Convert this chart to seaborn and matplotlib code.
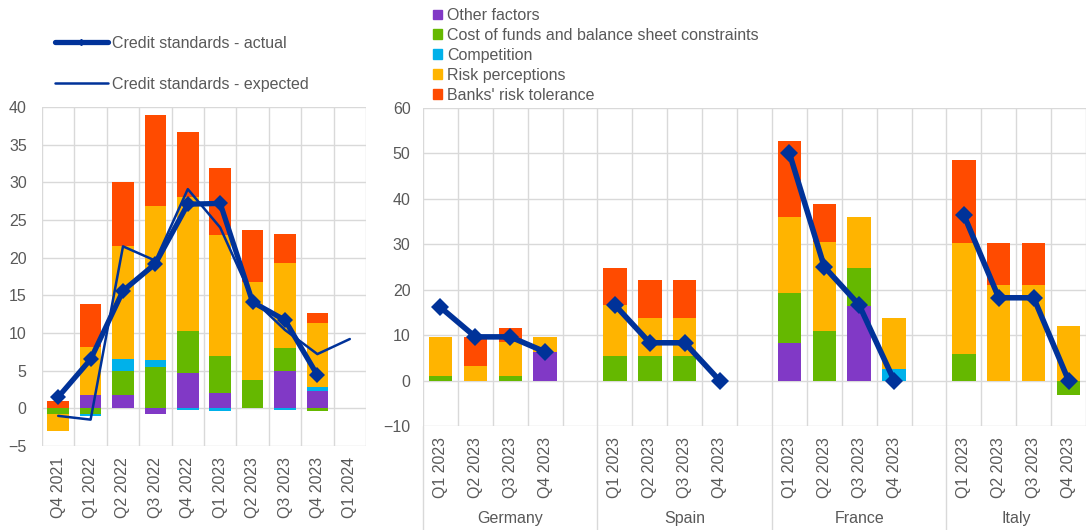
import numpy as np
import seaborn as sns
import matplotlib.pyplot as plt
import matplotlib.transforms as mtransforms
from matplotlib.lines import Line2D
from matplotlib.patches import Patch

# ---- data: euro area (left panel) ----
ea_quarters = ["Q4 2021", "Q1 2022", "Q2 2022", "Q3 2022", "Q4 2022",
               "Q1 2023", "Q2 2023", "Q3 2023", "Q4 2023", "Q1 2024"]
ea_other = [0.0, 1.8, 1.8, -0.8, 4.65, 2.0, 0.0, 4.9, 2.25]
ea_cost = [-0.7, -0.75, 3.1, 5.5, 5.55, 5.0, 3.7, 3.1, -0.4]
ea_comp = [0.0, -0.3, 1.7, 0.9, -0.2, -0.3, 0.0, -0.2, 0.55]
ea_perc = [-2.3, 6.4, 15.0, 20.4, 17.9, 16.0, 13.1, 11.3, 8.5]
ea_tol = [1.0, 5.65, 8.5, 12.2, 8.6, 8.9, 6.9, 3.9, 1.4]
ea_actual = [1.5, 6.5, 15.6, 19.2, 27.1, 27.2, 14.1, 11.7, 4.4]
ea_expected = [-1.0, -1.5, 21.5, 19.6, 29.1, 24.0, 14.5, 10.4, 7.2, 9.2]

# ---- data: countries (right panel), Q1-Q4 2023 for each country ----
countries = ["Germany", "Spain", "France", "Italy"]
cty_quarters = ["Q1 2023", "Q2 2023", "Q3 2023", "Q4 2023"]
cty_other = [0, 0, 0, 6.3,   0, 0, 0, 0,   8.2, 0, 16.5, 0,   0, 0, 0, 0]
cty_cost = [0.9, 0, 0.9, 0,   5.4, 5.4, 5.4, 0,   11.1, 11.0, 8.3, 0,   5.9, 0, 0, -3.1]
cty_comp = [0, 0, 0, 0,   0, 0, 0, 0,   0, 0, 0, 2.6,   0, 0, 0, 0]
cty_perc = [8.6, 3.2, 7.6, 3.2,   11.2, 8.4, 8.4, 0,   16.7, 19.5, 11.2, 11.2,   24.3, 21.1, 21.1, 12.0]
cty_tol = [0, 6.3, 3.15, 0,   8.2, 8.2, 8.2, 0,   16.7, 8.3, 0, 0,   18.2, 9.1, 9.1, 0]
cty_actual = [16.1, 9.6, 9.6, 6.3,   16.6, 8.3, 8.3, 0,   50.0, 25.0, 16.6, 0,   36.4, 18.2, 18.2, 0]

factor_names = ["Other factors", "Cost of funds and balance sheet constraints",
                "Competition", "Risk perceptions", "Banks' risk tolerance"]
factor_colors = ["#8139C6", "#65B800", "#00B1EA", "#FFB400", "#FF4B00"]
line_color = "#003299"
grid_color = "#D9D9D9"
text_color = "#595959"

sns.set_theme(style="white")
plt.rcParams['font.family'] = ['Liberation Sans', 'DejaVu Sans']


def stacked_bars(ax, pos, comps):
    vals = np.array(comps, dtype=float)
    up = np.clip(vals, 0, None).cumsum(axis=0)
    down = np.clip(vals, None, 0).cumsum(axis=0)
    # draw cumulative totals from the top layer down so lower layers sit on top
    for i in range(len(comps) - 1, -1, -1):
        for part in (up, down):
            sns.barplot(x=pos, y=part[i], native_scale=True, orient="x",
                        color=factor_colors[i], saturation=1, width=0.67,
                        errorbar=None, linewidth=0, ax=ax)


def style_axis(ax, n_slots):
    for s in ax.spines.values():
        s.set_visible(False)
    ax.set_xticks(np.arange(-0.5, n_slots), minor=True)
    ax.grid(which="minor", axis="x", color=grid_color, lw=1)
    ax.grid(which="major", axis="y", color=grid_color, lw=1)
    ax.grid(which="major", axis="x", visible=False)
    ax.tick_params(which="both", length=0, colors=text_color, labelsize=11.5)
    ax.set_axisbelow(True)
    ax.set_xlabel("")
    ax.set_ylabel("")


fig = plt.figure(figsize=(10.86, 5.30), dpi=100)

# ---- left panel ----
ax1 = fig.add_axes([42 / 1086, 84 / 530, 324 / 1086, 339 / 530])
ea_pos = np.arange(len(ea_actual))
stacked_bars(ax1, ea_pos, [ea_other, ea_cost, ea_comp, ea_perc, ea_tol])
sns.lineplot(x=np.arange(len(ea_expected)), y=ea_expected, color=line_color,
             lw=1.8, ax=ax1)
sns.lineplot(x=ea_pos, y=ea_actual, color=line_color, lw=3.8, marker="D",
             markersize=8, markeredgewidth=0, ax=ax1)
ax1.set_xlim(-0.5, 9.5)
ax1.set_ylim(-5, 40)
ax1.set_yticks(np.arange(-5, 41, 5))
ax1.set_xticks(np.arange(len(ea_quarters)))
ax1.set_xticklabels(ea_quarters, rotation=90)
style_axis(ax1, len(ea_quarters))
ax1.tick_params(axis="y", pad=11)
ax1.tick_params(axis="x", pad=8)

# ---- right panel ----
ax2 = fig.add_axes([423 / 1086, 104 / 530, 663 / 1086, 318.3 / 530])
cty_pos = np.array([5 * c + q for c in range(len(countries)) for q in range(4)])
stacked_bars(ax2, cty_pos, [cty_other, cty_cost, cty_comp, cty_perc, cty_tol])
for c in range(len(countries)):
    sl = slice(4 * c, 4 * c + 4)
    sns.lineplot(x=cty_pos[sl], y=cty_actual[sl], color=line_color, lw=4,
                 marker="D", markersize=9, markeredgewidth=0, ax=ax2)
ax2.set_xlim(-0.5, 18.23)
ax2.set_ylim(-10, 60)
ax2.set_yticks(np.arange(-10, 61, 10))
ax2.set_xticks(cty_pos)
ax2.set_xticklabels(cty_quarters * len(countries), rotation=90)
style_axis(ax2, 19)
ax2.tick_params(axis="y", pad=9)
ax2.tick_params(axis="x", pad=8)

trans = mtransforms.blended_transform_factory(ax2.transData, ax2.transAxes)
for xb in [-0.5, 4.5, 9.5, 14.5]:
    ax2.plot([xb, xb], [0, -0.33], color=grid_color, lw=1, transform=trans,
             clip_on=False)
for c, xc in zip(countries, [2.0, 7.0, 12.0, 16.5]):
    ax2.text(xc, -0.292, c, transform=trans, ha="center", va="center",
             fontsize=11.5, color=text_color)

# ---- legends ----
line_handles = [
    Line2D([], [], color=line_color, lw=3.8, marker="D", markersize=3),
    Line2D([], [], color=line_color, lw=1.8),
]
fig.legend(line_handles, ["Credit standards - actual", "Credit standards - expected"],
           loc="upper left", bbox_to_anchor=(55 / 1086, 1 - 36 / 530),
           frameon=False, fontsize=11.5, labelcolor=text_color,
           handlelength=3.3, handletextpad=0.3, labelspacing=1.6,
           borderpad=0, borderaxespad=0)

bar_handles = [Patch(color=col) for col in factor_colors]
fig.legend(bar_handles, factor_names, loc="upper left",
           bbox_to_anchor=(433 / 1086, 1 - 8 / 530), frameon=False,
           fontsize=11.5, labelcolor=text_color, handlelength=0.55,
           handleheight=0.55, handletextpad=0.35, labelspacing=0.31,
           borderpad=0, borderaxespad=0)

fig.savefig("out.png", dpi=100)
